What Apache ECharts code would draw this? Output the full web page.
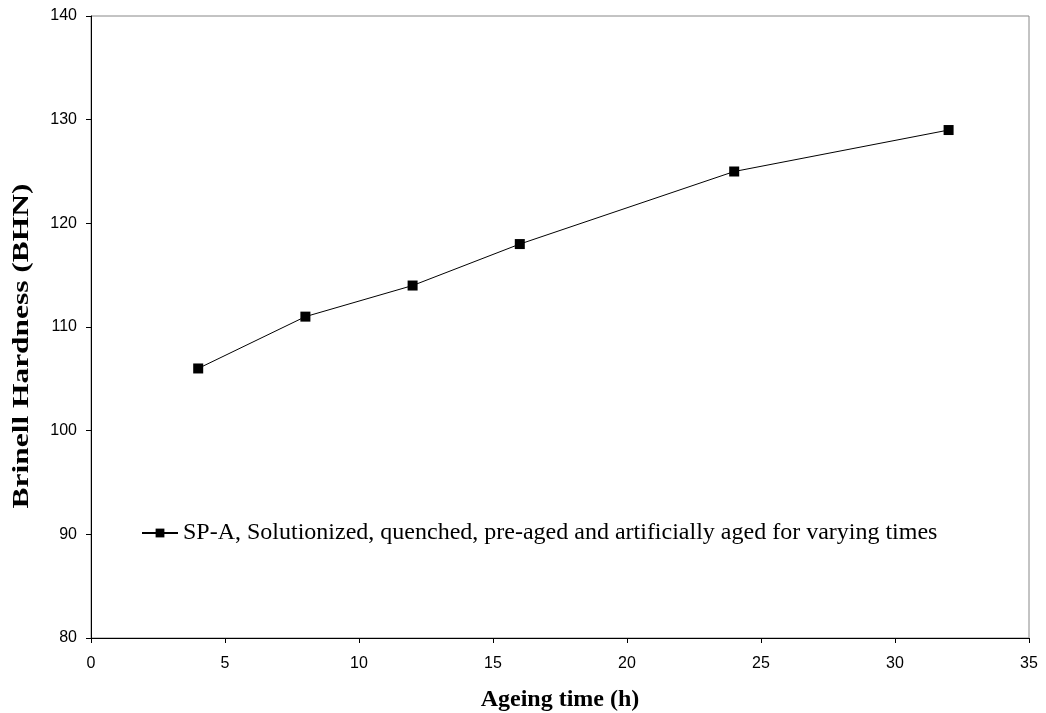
<!DOCTYPE html>
<html>
<head>
<meta charset="utf-8">
<script src="https://cdn.jsdelivr.net/npm/echarts@6/dist/echarts.min.js"></script>
<style>
html,body{margin:0;padding:0;background:#fff;}
#chart{width:1046px;height:713px;}
</style>
</head>
<body>
<div id="chart"></div>
<script>
// Ageing time (h) and Brinell hardness readings
const ageingTimes = [4, 8, 12, 16, 24, 32];
const hardness = [106, 111, 114, 118, 125, 129];
const seriesName = 'SP-A, Solutionized, quenched, pre-aged and artificially aged for varying times';
const xTitle = 'Ageing time (h)';
const yTitle = 'Brinell Hardness (BHN)';

const points = ageingTimes.map((t, i) => [t, hardness[i]]);
const serif = '"Liberation Serif", "Times New Roman", serif';
const sans = '"Liberation Sans", Arial, sans-serif';

const chart = echarts.init(document.getElementById('chart'));
chart.setOption({
  animation: false,
  backgroundColor: '#fff',
  grid: {
    left: 91, right: 17, top: 16, bottom: 75,
    outerBoundsMode: 'none', containLabel: false,
    show: true, borderColor: '#888', borderWidth: 1, backgroundColor: 'transparent'
  },
  legend: {
    left: 141, top: 521, padding: 0,
    itemWidth: 36, itemHeight: 11, itemGap: 10,
    data: [seriesName],
    textStyle: { fontFamily: serif, fontSize: 24, color: '#000' }
  },
  graphic: [{
    type: 'text',
    x: 22, y: 346,
    rotation: Math.PI / 2,
    scaleX: 1.31,
    style: {
      text: yTitle,
      font: 'bold 24px ' + serif,
      fill: '#000',
      textAlign: 'center', textVerticalAlign: 'middle',
      align: 'center', verticalAlign: 'middle'
    }
  }],
  xAxis: {
    type: 'value', min: 0, max: 35, interval: 5,
    name: xTitle, nameLocation: 'middle', nameGap: 50,
    nameTextStyle: { fontFamily: serif, fontWeight: 'bold', fontSize: 24, color: '#000' },
    axisLine: { show: true, lineStyle: { color: '#000', width: 1 } },
    axisTick: { show: true, inside: false, length: 5, lineStyle: { color: '#000' } },
    axisLabel: { fontFamily: sans, fontSize: 16, color: '#000', margin: 18 },
    splitLine: { show: false }
  },
  yAxis: {
    type: 'value', min: 80, max: 140, interval: 10,
    axisLine: { show: true, lineStyle: { color: '#000', width: 1 } },
    axisTick: { show: true, inside: false, length: 5, lineStyle: { color: '#000' } },
    axisLabel: { fontFamily: sans, fontSize: 16, color: '#000', margin: 14 },
    splitLine: { show: false }
  },
  series: [{
    name: seriesName,
    type: 'line',
    data: points,
    symbol: 'rect',
    symbolSize: 10,
    itemStyle: { color: '#000' },
    lineStyle: { color: '#000', width: 1 }
  }]
});
</script>
</body>
</html>
